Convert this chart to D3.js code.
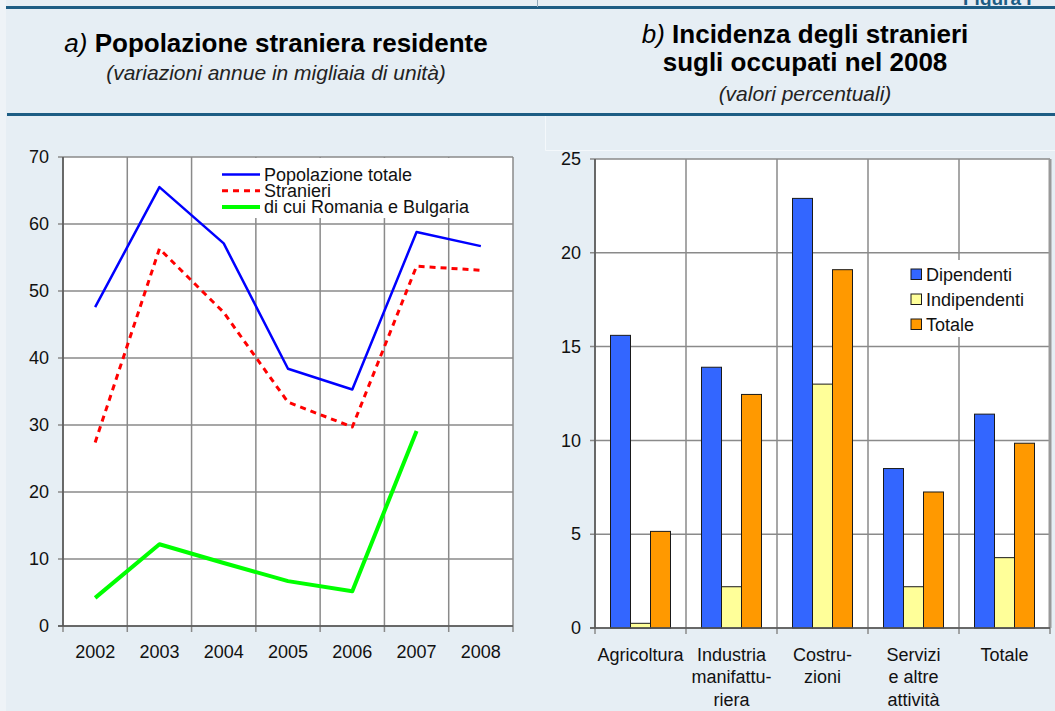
<!DOCTYPE html>
<html>
<head>
<meta charset="utf-8">
<script src="https://cdn.jsdelivr.net/npm/d3@7"></script>
<style>
  body { margin: 0; background: #e6eef4; }
  svg { display: block; font-family: "Liberation Sans", Arial, sans-serif; }
</style>
</head>
<body>
<svg id="chart" width="1055" height="711"></svg>
<script>
// data - panel a)
var years = ['2002', '2003', '2004', '2005', '2006', '2007', '2008']
var popTotale = [47.6, 65.5, 57.1, 38.4, 35.3, 58.8, 56.7]
var stranieri = [27.4, 56.3, 46.8, 33.4, 29.7, 53.7, 53.1]
var romBul = [4.2, 12.2, 9.4, 6.7, 5.2, 29.1, null]
var yTicksA = [0, 10, 20, 30, 40, 50, 60, 70]

// data - panel b)
var settori = [['Agricoltura'], ['Industria', 'manifattu-', 'riera'], ['Costru-', 'zioni'],
  ['Servizi', 'e altre', 'attività'], ['Totale']]
var serieB = ['Dipendenti', 'Indipendenti', 'Totale']
var dipendenti = [15.6, 13.9, 22.9, 8.5, 11.4]
var indipendenti = [0.25, 2.2, 13.0, 2.2, 3.75]
var totaleB = [5.15, 12.45, 19.1, 7.25, 9.85]
var yTicksB = [0, 5, 10, 15, 20, 25]

var svg = d3.select('#chart')
var grid = '#8a8a8a'
var teal = '#1d5d84'
var fs = 18

// page frame
svg.append('rect').attr('x', 0).attr('y', 0).attr('width', 6).attr('height', 711).attr('fill', '#eef3f7')
svg.append('line').attr('x1', 6).attr('x2', 1055).attr('y1', 7.5).attr('y2', 7.5)
  .attr('stroke', teal).attr('stroke-width', 3)
svg.append('line').attr('x1', 7).attr('x2', 1055).attr('y1', 114.5).attr('y2', 114.5)
  .attr('stroke', teal).attr('stroke-width', 3)
svg.append('line').attr('x1', 537.5).attr('x2', 537.5).attr('y1', 0).attr('y2', 7)
  .attr('stroke', '#8fa9bb').attr('stroke-width', 1)
svg.append('text').attr('x', 963).attr('y', 5).attr('fill', teal)
  .attr('font-weight', 'bold').attr('font-size', 19).text('Figura I')
svg.append('path').attr('d', 'M545.5,116V150.5H1055').attr('fill', 'none')
  .attr('stroke', '#f4f8fb').attr('stroke-width', 1)

// titles
var ta = svg.append('text').attr('x', 276).attr('y', 52).attr('text-anchor', 'middle').attr('font-size', 26)
ta.append('tspan').attr('font-style', 'italic').text('a) ')
ta.append('tspan').attr('font-weight', 'bold').text('Popolazione straniera residente')
svg.append('text').attr('x', 276).attr('y', 80).attr('text-anchor', 'middle')
  .attr('font-size', 21).attr('font-style', 'italic').attr('fill', '#222')
  .text('(variazioni annue in migliaia di unità)')

var tb = svg.append('text').attr('x', 805).attr('y', 43).attr('text-anchor', 'middle').attr('font-size', 26)
tb.append('tspan').attr('font-style', 'italic').text('b) ')
tb.append('tspan').attr('font-weight', 'bold').text('Incidenza degli stranieri')
svg.append('text').attr('x', 805).attr('y', 71).attr('text-anchor', 'middle').attr('font-size', 26)
  .attr('font-weight', 'bold').text('sugli occupati nel 2008')
svg.append('text').attr('x', 805).attr('y', 101).attr('text-anchor', 'middle')
  .attr('font-size', 21).attr('font-style', 'italic').attr('fill', '#222')
  .text('(valori percentuali)')

// Panel a) - line chart
// -------------------------
var xa = d3.scaleBand().domain(years).range([63, 513])
var ya = d3.scaleLinear().domain([0, 70]).range([626, 157])
var ga = svg.append('g')

ga.append('rect').attr('x', 63).attr('y', 157).attr('width', 450).attr('height', 469).attr('fill', '#fff')

ga.selectAll('line.h').data(yTicksA).enter().append('line')
  .attr('x1', 58).attr('x2', 513)
  .attr('y1', function(d) { return ya(d) }).attr('y2', function(d) { return ya(d) })
  .attr('stroke', grid).attr('stroke-width', 1.5)

var bounds = years.map(function(d) { return xa(d) }).concat([xa.range()[1]])
ga.selectAll('line.v').data(bounds).enter().append('line')
  .attr('x1', function(d) { return d }).attr('x2', function(d) { return d })
  .attr('y1', 157).attr('y2', 632)
  .attr('stroke', grid).attr('stroke-width', 1.5)

// legend box (covers grid)
ga.append('rect').attr('x', 220).attr('y', 158).attr('width', 256).attr('height', 60).attr('fill', '#fff')

ga.append('line').attr('x1', 63).attr('x2', 63).attr('y1', 157).attr('y2', 626).attr('stroke', '#555').attr('stroke-width', 1.5)
ga.append('line').attr('x1', 58).attr('x2', 513).attr('y1', 626).attr('y2', 626).attr('stroke', '#555').attr('stroke-width', 1.5)

var yAxisA = ga.append('g').attr('transform', 'translate(63,0)')
  .call(d3.axisLeft(ya).tickValues(yTicksA).tickSize(0).tickPadding(14))
yAxisA.select('.domain').remove()
yAxisA.selectAll('text').attr('font-size', fs).attr('fill', '#111').attr('font-family', null)

var xAxisA = ga.append('g').attr('transform', 'translate(0,626)')
  .call(d3.axisBottom(xa).tickSize(0).tickPadding(19))
xAxisA.select('.domain').remove()
xAxisA.selectAll('text').attr('font-size', fs).attr('fill', '#111').attr('font-family', null)

var lineA = d3.line()
  .defined(function(d) { return d != null })
  .x(function(d, i) { return xa(years[i]) + xa.bandwidth() / 2 })
  .y(function(d) { return ya(d) })

var seriesA = [
  { name: 'Popolazione totale', values: popTotale, color: '#0000ff', width: 2.5, dash: null },
  { name: 'Stranieri', values: stranieri, color: '#ff0000', width: 3, dash: '6,5' },
  { name: 'di cui Romania e Bulgaria', values: romBul, color: '#00ff00', width: 4, dash: null }
]

ga.selectAll('path.serie').data(seriesA).enter().append('path')
  .attr('class', 'serie')
  .attr('d', function(d) { return lineA(d.values) })
  .attr('fill', 'none')
  .attr('stroke', function(d) { return d.color })
  .attr('stroke-width', function(d) { return d.width })
  .attr('stroke-dasharray', function(d) { return d.dash })
  .attr('stroke-linejoin', 'round')

var legA = ga.selectAll('g.leg').data(seriesA).enter().append('g')
  .attr('transform', function(d, i) { return 'translate(222,' + (174.5 + i * 16.2) + ')' })
legA.append('line').attr('x1', 0).attr('x2', 38)
  .attr('stroke', function(d) { return d.color })
  .attr('stroke-width', function(d) { return d.width })
  .attr('stroke-dasharray', function(d) { return d.dash })
legA.append('text').attr('x', 42).attr('y', 6.5).attr('font-size', fs).attr('fill', '#111')
  .text(function(d) { return d.name })

// Panel b) - grouped bars
// -------------------------
var catKeys = settori.map(function(d) { return d.join(' ') })
var x0 = d3.scaleBand().domain(catKeys).range([595, 1050])
var x1 = d3.scaleBand().domain(serieB).range([0, x0.bandwidth()]).paddingOuter(0.775)
var yb = d3.scaleLinear().domain([0, 25]).range([628, 159])
var colB = d3.scaleOrdinal().domain(serieB).range(['#3366ff', '#ffff99', '#ff9900'])
var gb = svg.append('g')

gb.append('rect').attr('x', 595).attr('y', 159).attr('width', 455).attr('height', 469).attr('fill', '#fff')

gb.selectAll('line.h').data(yTicksB).enter().append('line')
  .attr('x1', 590).attr('x2', 1050)
  .attr('y1', function(d) { return yb(d) }).attr('y2', function(d) { return yb(d) })
  .attr('stroke', grid).attr('stroke-width', 1.5)

var boundsB = catKeys.map(function(d) { return x0(d) }).concat([x0.range()[1]])
gb.selectAll('line.v').data(boundsB).enter().append('line')
  .attr('x1', function(d) { return d }).attr('x2', function(d) { return d })
  .attr('y1', 159).attr('y2', 634)
  .attr('stroke', grid).attr('stroke-width', 1.5)
gb.append('line').attr('x1', 1050).attr('x2', 1050).attr('y1', 159).attr('y2', 628)
  .attr('stroke', '#999').attr('stroke-width', 3)

// legend box
gb.append('rect').attr('x', 905).attr('y', 260).attr('width', 124).attr('height', 77).attr('fill', '#fff')

gb.append('line').attr('x1', 595).attr('x2', 595).attr('y1', 159).attr('y2', 628).attr('stroke', '#555').attr('stroke-width', 1.5)

var rows = catKeys.map(function(k, i) {
  return { key: k, values: [dipendenti[i], indipendenti[i], totaleB[i]] }
})

gb.selectAll('g.cat').data(rows).enter().append('g')
  .attr('transform', function(d) { return 'translate(' + x0(d.key) + ',0)' })
  .selectAll('rect').data(function(d) {
    return serieB.map(function(s, j) { return { s: s, v: d.values[j] } })
  })
  .enter().append('rect')
  .attr('x', function(d) { return x1(d.s) })
  .attr('width', x1.bandwidth())
  .attr('y', function(d) { return yb(d.v) })
  .attr('height', function(d) { return yb(0) - yb(d.v) })
  .attr('fill', function(d) { return colB(d.s) })
  .attr('stroke', '#1a1a1a').attr('stroke-width', 1)

gb.append('line').attr('x1', 590).attr('x2', 1050).attr('y1', 628).attr('y2', 628).attr('stroke', '#555').attr('stroke-width', 1.5)

var yAxisB = gb.append('g').attr('transform', 'translate(595,0)')
  .call(d3.axisLeft(yb).tickValues(yTicksB).tickSize(0).tickPadding(14))
yAxisB.select('.domain').remove()
yAxisB.selectAll('text').attr('font-size', fs).attr('fill', '#111').attr('font-family', null)

var xlab = gb.selectAll('text.xlab').data(settori).enter().append('text')
  .attr('class', 'xlab')
  .attr('text-anchor', 'middle').attr('font-size', fs).attr('fill', '#111')
  .attr('transform', function(d, i) { return 'translate(' + (x0(catKeys[i]) + x0.bandwidth() / 2) + ',661)' })
xlab.selectAll('tspan').data(function(d) { return d }).enter().append('tspan')
  .attr('x', 0).attr('dy', function(d, i) { return i ? 22.3 : 0 })
  .text(function(d) { return d })

var legB = gb.selectAll('g.legb').data(serieB).enter().append('g')
  .attr('transform', function(d, i) { return 'translate(911,' + (269 + i * 25) + ')' })
legB.append('rect').attr('width', 10.5).attr('height', 10.5)
  .attr('fill', function(d) { return colB(d) }).attr('stroke', '#1a1a1a').attr('stroke-width', 1)
legB.append('text').attr('x', 15).attr('y', 12).attr('font-size', fs).attr('fill', '#111')
  .text(function(d) { return d })
</script>
</body>
</html>
